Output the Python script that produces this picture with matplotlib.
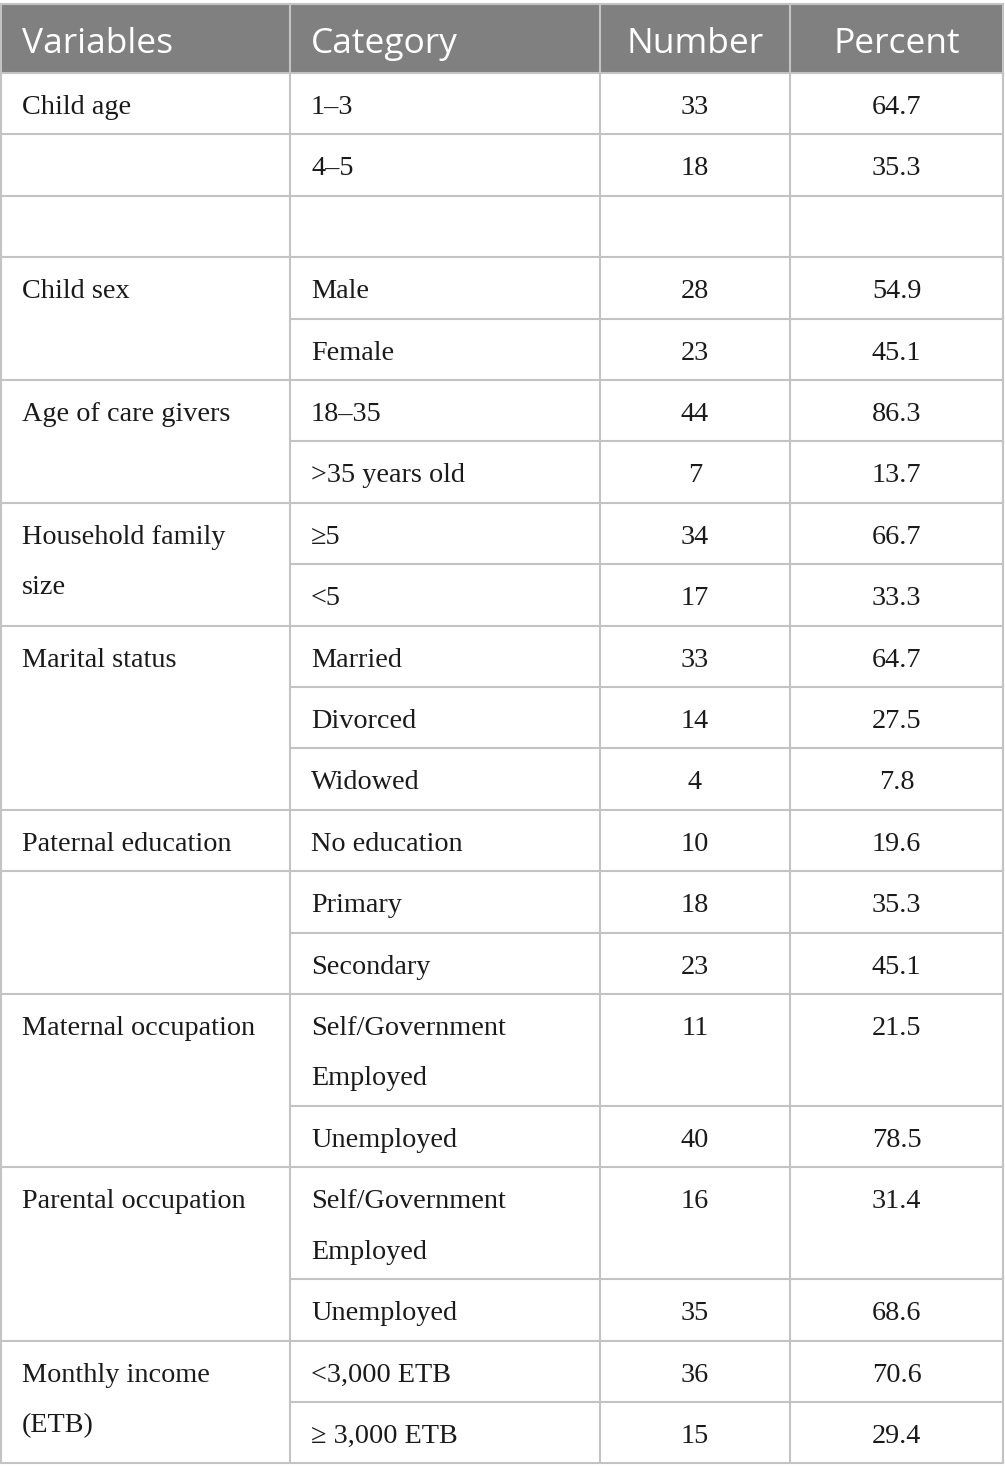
import matplotlib.pyplot as plt
from matplotlib.patches import Rectangle

# Table content (None in variables = merged with the row above)
headers = ['Variables', 'Category', 'Number', 'Percent']
variables = ['Child age', '', '', 'Child sex', None, 'Age of care givers', None,
             'Household family\nsize', None, 'Marital status', None, None,
             'Paternal education', '', None, 'Maternal occupation', None,
             'Parental occupation', None, 'Monthly income\n(ETB)', None]
categories = ['1–3', '4–5', '', 'Male', 'Female', '18–35', '>35 years old',
              '≥5', '<5', 'Married', 'Divorced', 'Widowed', 'No education',
              'Primary', 'Secondary', 'Self/Government\nEmployed', 'Unemployed',
              'Self/Government\nEmployed', 'Unemployed', '<3,000 ETB', '≥ 3,000 ETB']
numbers = ['33', '18', '', '28', '23', '44', '7', '34', '17', '33', '14', '4',
           '10', '18', '23', '11', '40', '16', '35', '36', '15']
percents = ['64.7', '35.3', '', '54.9', '45.1', '86.3', '13.7', '66.7', '33.3',
            '64.7', '27.5', '7.8', '19.6', '35.3', '45.1', '21.5', '78.5',
            '31.4', '68.6', '70.6', '29.4']

# layout in pixels
W, H = 1005, 1481
col_x = [1, 290, 600, 790, 1003]
top, head_h = 4, 69
row_h, line_gap = 61.4, 50.5
pad = 21
line_col = '#c3c3c3'
text_col = '#1a1a1a'
body_font = dict(family='Liberation Serif', fontsize=20.3, color=text_col)
head_font = dict(family='Open Sans', fontsize=25.5, color='white')

fig = plt.figure(figsize=(W / 100, H / 100), dpi=100)
ax = fig.add_axes([0, 0, 1, 1])
ax.set_xlim(0, W)
ax.set_ylim(H, 0)
ax.axis('off')

# header
ax.add_patch(Rectangle((col_x[0], top), col_x[-1] - col_x[0], head_h,
                       facecolor='#808080', edgecolor='none'))
hy = top + 49
ax.text(col_x[0] + pad, hy, headers[0], va='baseline', ha='left', **head_font)
ax.text(col_x[1] + pad, hy, headers[1], va='baseline', ha='left', **head_font)
ax.text((col_x[2] + col_x[3]) / 2, hy, headers[2], va='baseline', ha='center', **head_font)
ax.text((col_x[3] + col_x[4]) / 2, hy, headers[3], va='baseline', ha='center', **head_font)

# row heights follow the number of lines in the category column
n_lines = [c.count('\n') + 1 for c in categories]
row_tops = []
y = top + head_h
for n in n_lines:
    row_tops.append(y)
    y += row_h + (n - 1) * line_gap
bottom = y


def put_lines(x, y0, s, ha):
    for k, part in enumerate(s.split('\n')):
        ax.text(x, y0 + 41 + k * line_gap, part, va='baseline', ha=ha, **body_font)


for i, yt in enumerate(row_tops):
    if variables[i]:
        put_lines(col_x[0] + pad, yt, variables[i], 'left')
    put_lines(col_x[1] + pad, yt, categories[i], 'left')
    put_lines((col_x[2] + col_x[3]) / 2, yt, numbers[i], 'center')
    put_lines((col_x[3] + col_x[4]) / 2, yt, percents[i], 'center')

# grid lines
lw = 1.5
for i, yt in enumerate(row_tops):
    if i == 0:
        continue
    x0 = col_x[1] if variables[i] is None else col_x[0]
    ax.plot([x0, col_x[-1]], [yt, yt], color=line_col, lw=lw, solid_capstyle='butt')
ax.plot([col_x[0], col_x[-1]], [top + head_h, top + head_h], color=line_col, lw=lw)
ax.plot([col_x[0], col_x[-1]], [bottom, bottom], color=line_col, lw=lw)
ax.plot([col_x[0], col_x[-1]], [top, top], color=line_col, lw=lw)
for x in col_x:
    ax.plot([x, x], [top, bottom], color=line_col, lw=lw, solid_capstyle='butt')

fig.savefig('out.png', dpi=100, facecolor='white')
